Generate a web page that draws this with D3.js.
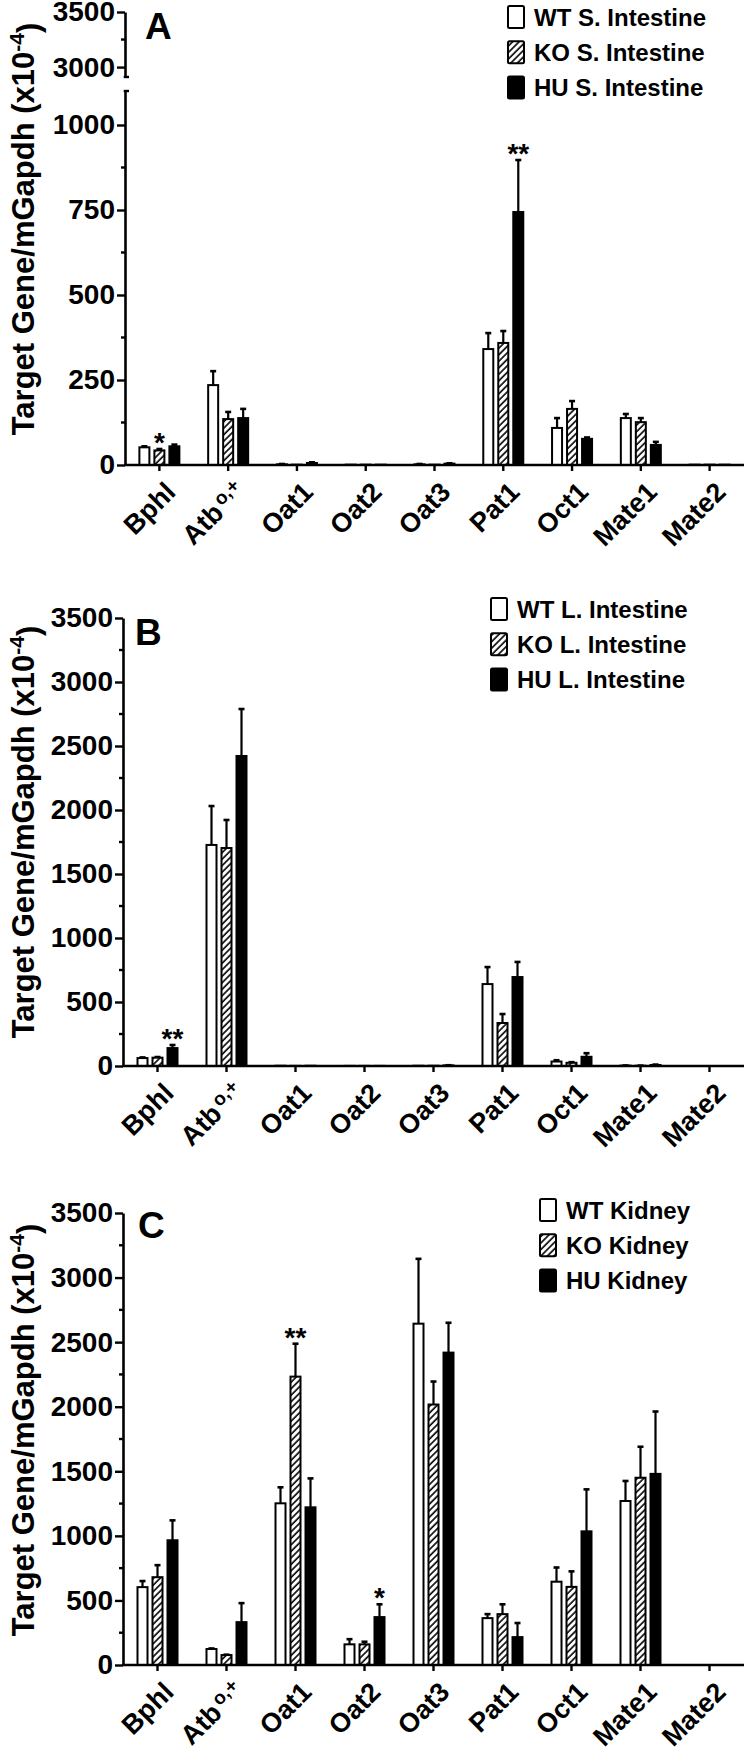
<!DOCTYPE html>
<html>
<head>
<meta charset='utf-8' />
<title>Target gene expression</title>
<style>
  body { margin: 0; background: #fff; }
  svg text { font-family: 'Liberation Sans', Arial, sans-serif; font-weight: bold; fill: #000; }
</style>
</head>
<body>
<div id="wrapper"></div>
<script src='https://d3js.org/d3.v7.min.js' charset='utf-8'></script>
<script>
  const genes = ['Bphl', 'Atb', 'Oat1', 'Oat2', 'Oat3', 'Pat1', 'Oct1', 'Mate1', 'Mate2']
  const groups = ['WT', 'KO', 'HU']

  // A - small intestine
  const siWT = [52, 235, 2, 1, 2, 341, 109, 138, 1]
  const siWTerr = [3, 41, 1, 0, 1, 47, 29, 12, 0]
  const siKO = [43, 135, 1, 1, 1, 359, 165, 126, 1]
  const siKOerr = [4, 21, 0, 0, 0, 35, 23, 12, 0]
  const siHU = [55, 138, 6, 1, 4, 744, 77, 59, 1]
  const siHUerr = [5, 27, 2, 0, 1, 153, 4, 9, 0]

  // B - large intestine
  const liWT = [62, 1727, 2, 1, 2, 640, 35, 3, 0]
  const liWTerr = [5, 304, 0, 0, 0, 133, 10, 1, 0]
  const liKO = [65, 1703, 1, 1, 2, 336, 25, 2, 0]
  const liKOerr = [5, 219, 0, 0, 0, 70, 5, 1, 0]
  const liHU = [140, 2422, 2, 1, 5, 695, 72, 8, 0]
  const liHUerr = [24, 367, 0, 0, 1, 118, 28, 3, 0]

  // C - kidney
  const kdWT = [603, 124, 1252, 160, 2643, 363, 645, 1270, 0]
  const kdWTerr = [47, 4, 124, 40, 502, 31, 110, 155, 0]
  const kdKO = [680, 77, 2233, 160, 2017, 394, 605, 1450, 0]
  const kdKOerr = [93, 3, 255, 20, 178, 76, 120, 240, 0]
  const kdHU = [966, 332, 1221, 371, 2419, 216, 1035, 1480, 0]
  const kdHUerr = [154, 147, 224, 99, 231, 109, 325, 483, 0]

  const yTicksMajor = [0, 500, 1000, 1500, 2000, 2500, 3000, 3500]
  const yTicksMinor = [250, 750, 1250, 1750, 2250, 2750, 3250]
  const aLowTicks = [0, 250, 500, 750, 1000]
  const aLowMinor = [125, 375, 625, 875]
  const aTopTicks = [3000, 3500]
  const aTopMinor = [3250]

  const svg = d3.select('#wrapper')
    .append('svg')
      .attr('width', 744)
      .attr('height', 1756)

  const defs = svg.append('defs')
  const hatch = defs.append('pattern')
      .attr('id', 'hatch')
      .attr('patternUnits', 'userSpaceOnUse')
      .attr('width', 4.6)
      .attr('height', 4.6)
      .attr('patternTransform', 'rotate(45)')
  hatch.append('rect').attr('width', 4.6).attr('height', 4.6).attr('fill', '#fff')
  hatch.append('line')
      .attr('x1', 1).attr('y1', 0).attr('x2', 1).attr('y2', 4.6)
      .attr('stroke', '#000').attr('stroke-width', 1.6)

  const fills = { WT: '#fff', KO: 'url(#hatch)', HU: '#000' }
  const c45 = Math.SQRT1_2
  const labelSize = 27

  const drawYAxis = (g, x, scale, major, minor) => {
    const ax = g.append('g')
      .attr('transform', `translate(${x},0)`)
      .call(d3.axisLeft(scale).tickValues(major).tickSize(8).tickSizeOuter(0).tickPadding(2).tickFormat(d3.format('d')))
    ax.select('.domain').attr('stroke-width', 2.6)
    ax.selectAll('.tick line').attr('stroke-width', 2.4)
    ax.selectAll('.tick text').attr('font-size', 28)
    ax.selectAll('.minor')
      .data(minor)
      .enter().append('line')
        .attr('x1', -4).attr('x2', 0)
        .attr('y1', d => scale(d)).attr('y2', d => scale(d))
        .attr('stroke', '#000').attr('stroke-width', 2.4)
  }

  const drawPanel = (p) => {
    const g = svg.append('g')

    const x0 = d3.scaleBand().domain(genes).range([p.axisX, 744])
    const x1 = d3.scaleBand().domain(groups).range([-21, 21]).paddingInner(0.2)

    // y axes (panel A has a broken axis)
    p.yAxes.forEach(a => drawYAxis(g, p.axisX, a.scale, a.major, a.minor))
    if (p.breakAt) {
      p.breakAt.forEach(y => {
        g.append('line')
          .attr('x1', p.axisX - 1.3).attr('x2', p.axisX + 4)
          .attr('y1', y).attr('y2', y)
          .attr('stroke', '#000').attr('stroke-width', 2.4)
      })
    }
    const y = p.yAxes[0].scale
    const y0 = y(0)

    // bars
    const rows = []
    genes.forEach((gene, i) => {
      groups.forEach(grp => {
        rows.push({ gene: gene, grp: grp, v: p.means[grp][i], e: p.errs[grp][i] })
      })
    })

    const bw = x1.bandwidth()
    const cx = d => x0(d.gene) + x0.bandwidth() / 2 + x1(d.grp)

    g.selectAll('.err')
      .data(rows.filter(d => d.e > 0))
      .enter().append('g')
      .each(function (d) {
        const el = d3.select(this)
        const mx = cx(d) + bw / 2
        el.append('line')
          .attr('x1', mx).attr('x2', mx)
          .attr('y1', y(d.v)).attr('y2', y(d.v + d.e))
          .attr('stroke', '#000').attr('stroke-width', 2.2)
        el.append('line')
          .attr('x1', mx - 3).attr('x2', mx + 3)
          .attr('y1', y(d.v + d.e)).attr('y2', y(d.v + d.e))
          .attr('stroke', '#000').attr('stroke-width', 2.6)
      })

    g.selectAll('.bar')
      .data(rows)
      .enter().append('rect')
        .attr('x', d => cx(d) + 1)
        .attr('y', d => y(d.v))
        .attr('width', bw - 2)
        .attr('height', d => Math.max(0, y0 - y(d.v)))
        .attr('fill', d => fills[d.grp])
        .attr('stroke', '#000')
        .attr('stroke-width', 2)

    // x axis
    g.append('line')
      .attr('x1', p.axisX - 1).attr('x2', 744)
      .attr('y1', y0).attr('y2', y0)
      .attr('stroke', '#000').attr('stroke-width', 2.6)
    g.selectAll('.xt')
      .data(genes)
      .enter().append('line')
        .attr('x1', d => x0(d) + x0.bandwidth() / 2)
        .attr('x2', d => x0(d) + x0.bandwidth() / 2)
        .attr('y1', y0).attr('y2', y0 + 6)
        .attr('stroke', '#000').attr('stroke-width', 2.4)

    // gene labels at -45deg: measured, then centred like the y title
    g.selectAll('.xl')
      .data(genes)
      .enter().append('text')
        .attr('text-anchor', 'middle')
        .attr('font-size', labelSize)
      .each(function (d) {
        const t = d3.select(this)
        if (d === 'Atb') {
          t.append('tspan').text('Atb')
          t.append('tspan').attr('dx', 3).attr('dy', '-0.45em').attr('font-size', 19).text('o,+')
          t.append('tspan').attr('dy', '0.45em').text('')
        } else {
          t.append('tspan').text(d)
        }
        const len = this.getComputedTextLength()
        // top-right corner of the label sits just under the tick
        const ex = x0(d) + x0.bandwidth() / 2 + 4 + 0.72 * labelSize * c45
        const ey = y0 + 15 + 0.72 * labelSize * c45
        const mx = ex - len / 2 * c45
        const my = ey + len / 2 * c45
        t.attr('transform', `translate(${mx},${my}) rotate(-45)`)
      })

    // significance marks
    p.stars.forEach(s => {
      const i = genes.indexOf(s.gene)
      const d = { gene: s.gene, grp: s.grp }
      g.append('text')
        .attr('x', cx(d) + bw / 2)
        .attr('y', y(p.means[s.grp][i] + p.errs[s.grp][i]) + 3)
        .attr('text-anchor', 'middle')
        .attr('font-size', 28)
        .text(s.mark)
    })

    // y title
    const title = g.append('text')
      .attr('transform', `translate(34,${p.titleY}) rotate(-90)`)
      .attr('text-anchor', 'middle')
      .attr('font-size', 31)
    title.append('tspan').text('Target Gene/mGapdh (x10')
    title.append('tspan').attr('dy', '-0.5em').attr('font-size', 21).text('-4')
    title.append('tspan').attr('dy', '0.5em').text(')')

    // panel letter
    g.append('text')
      .attr('x', p.letterX).attr('y', p.letterY)
      .attr('font-size', 37)
      .text(p.letter)

    // legend
    const lg = g.append('g')
    groups.forEach((grp, i) => {
      const cy = p.legendY + i * 35.3
      lg.append('rect')
        .attr('x', p.legendX + 1).attr('y', cy - 11)
        .attr('width', 16).attr('height', 22)
        .attr('rx', 1.5)
        .attr('fill', fills[grp])
        .attr('stroke', '#000').attr('stroke-width', 2)
      lg.append('text')
        .attr('x', p.legendX + 27).attr('y', cy)
        .attr('dy', '0.36em')
        .attr('font-size', 24)
        .text(grp + ' ' + p.tissue)
    })
  }

  const aLow = d3.scaleLinear().domain([0, 1100]).range([465, 91])
  const aTop = d3.scaleLinear().domain([2910, 3500]).range([77, 12])
  drawPanel({
    letter: 'A', letterX: 145, letterY: 39, axisX: 125, titleY: 229,
    tissue: 'S. Intestine', legendX: 507, legendY: 17,
    yAxes: [
      { scale: aLow, major: aLowTicks, minor: aLowMinor },
      { scale: aTop, major: aTopTicks, minor: aTopMinor }
    ],
    breakAt: [77, 91],
    means: { WT: siWT, KO: siKO, HU: siHU },
    errs: { WT: siWTerr, KO: siKOerr, HU: siHUerr },
    stars: [{ gene: 'Bphl', grp: 'KO', mark: '*' }, { gene: 'Pat1', grp: 'HU', mark: '**' }]
  })

  const bY = d3.scaleLinear().domain([0, 3500]).range([1066, 618])
  drawPanel({
    letter: 'B', letterX: 135, letterY: 645, axisX: 123, titleY: 832,
    tissue: 'L. Intestine', legendX: 490, legendY: 609,
    yAxes: [{ scale: bY, major: yTicksMajor, minor: yTicksMinor }],
    means: { WT: liWT, KO: liKO, HU: liHU },
    errs: { WT: liWTerr, KO: liKOerr, HU: liHUerr },
    stars: [{ gene: 'Bphl', grp: 'HU', mark: '**' }]
  })

  const cY = d3.scaleLinear().domain([0, 3500]).range([1665, 1213])
  drawPanel({
    letter: 'C', letterX: 138, letterY: 1238, axisX: 123, titleY: 1430,
    tissue: 'Kidney', legendX: 539, legendY: 1210,
    yAxes: [{ scale: cY, major: yTicksMajor, minor: yTicksMinor }],
    means: { WT: kdWT, KO: kdKO, HU: kdHU },
    errs: { WT: kdWTerr, KO: kdKOerr, HU: kdHUerr },
    stars: [{ gene: 'Oat1', grp: 'KO', mark: '**' }, { gene: 'Oat2', grp: 'HU', mark: '*' }]
  })
</script>
</body>
</html>
